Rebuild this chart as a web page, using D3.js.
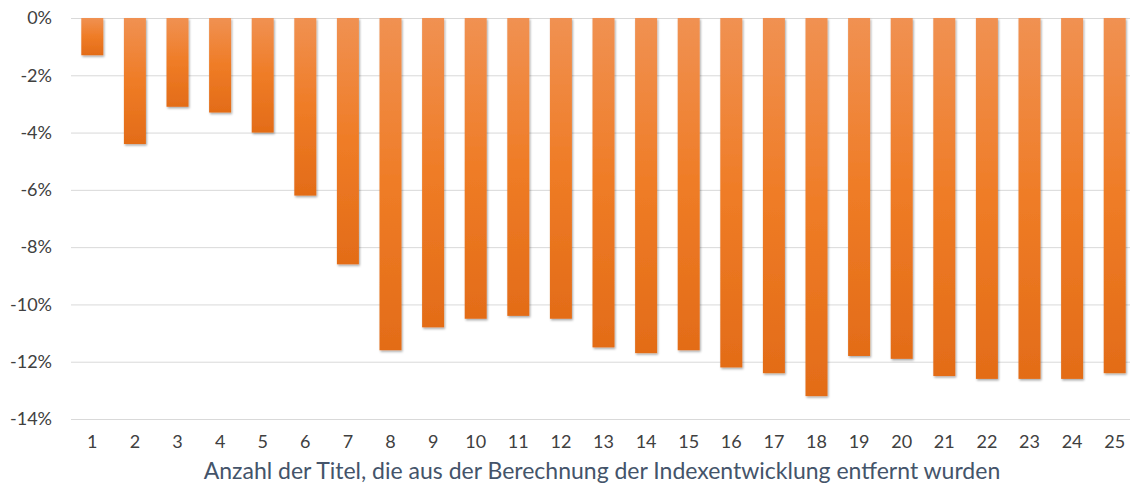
<!DOCTYPE html>
<html>
<head>
<meta charset="utf-8">
<script src="https://cdn.jsdelivr.net/npm/d3@7"></script>
<style>
  html, body { margin: 0; padding: 0; background: #fff; }
  svg { display: block; }
</style>
</head>
<body>
<svg id="chart" width="1130" height="490"></svg>
<script>
// Number of removed titles (x) and resulting change of the index (in %)
const categories = ["1","2","3","4","5","6","7","8","9","10","11","12","13","14","15","16","17","18","19","20","21","22","23","24","25"];
const values = [-1.3, -4.4, -3.1, -3.3, -4.0, -6.2, -8.6, -11.6, -10.8, -10.5, -10.4, -10.5, -11.5, -11.7, -11.6, -12.2, -12.4, -13.2, -11.8, -11.9, -12.5, -12.6, -12.6, -12.6, -12.4];
const yTicks = [0, -2, -4, -6, -8, -10, -12, -14];
const xTitle = "Anzahl der Titel, die aus der Berechnung der Indexentwicklung entfernt wurden";

const svg = d3.select("#chart");
const margin = { left: 71, right: -6, top: 18, bottom: 71 };
const W = 1130, H = 490;
const font = "Lato, 'Open Sans', sans-serif";

const x = d3.scaleBand()
  .domain(categories)
  .range([margin.left, W - margin.right])
  .paddingInner(0.484)
  .paddingOuter(0.242);

const y = d3.scaleLinear()
  .domain([-14, 0])
  .range([H - margin.bottom, margin.top]);

const defs = svg.append("defs");
const grad = defs.append("linearGradient")
  .attr("id", "barFill").attr("x1", 0).attr("y1", 0).attr("x2", 0).attr("y2", 1);
grad.append("stop").attr("offset", "0%").attr("stop-color", "#F09152");
grad.append("stop").attr("offset", "50%").attr("stop-color", "#EF7C26");
grad.append("stop").attr("offset", "100%").attr("stop-color", "#E36C18");

const shadow = defs.append("filter").attr("id", "barShadow")
  .attr("x", "-20%").attr("y", "-5%").attr("width", "150%").attr("height", "115%");
shadow.append("feDropShadow")
  .attr("dx", 1).attr("dy", 1.5).attr("stdDeviation", 1.2)
  .attr("flood-color", "#000").attr("flood-opacity", 0.35);

// Horizontal gridlines with percentage labels
const yAxis = d3.axisLeft(y)
  .tickValues(yTicks)
  .tickSize(-(W - margin.left))
  .tickPadding(19)
  .tickFormat(d => d + "%");

const gy = svg.append("g")
  .attr("transform", `translate(${margin.left},0)`)
  .call(yAxis);
gy.select(".domain").remove();
gy.selectAll(".tick line").attr("stroke", "#D9D9D9").attr("stroke-width", 1);
gy.selectAll(".tick text")
  .attr("fill", "#404040")
  .style("font-family", font)
  .style("font-size", "18px");

// Bars hanging from 0%
svg.append("g").selectAll("rect")
  .data(values)
  .join("rect")
  .attr("x", (d, i) => x(categories[i]))
  .attr("width", x.bandwidth())
  .attr("y", y(0))
  .attr("height", d => y(d) - y(0))
  .attr("fill", "url(#barFill)")
  .attr("filter", "url(#barShadow)");

// Category axis labels
const xAxis = d3.axisBottom(x).tickSize(0).tickPadding(16);
const gx = svg.append("g")
  .attr("transform", `translate(0,${y(-14)})`)
  .call(xAxis);
gx.select(".domain").remove();
gx.selectAll(".tick text")
  .attr("fill", "#404040")
  .style("font-family", font)
  .style("font-size", "18px");

// Axis title
svg.append("text")
  .attr("x", 602)
  .attr("y", 479)
  .attr("text-anchor", "middle")
  .attr("fill", "#44546A")
  .style("font-family", font)
  .style("font-size", "23px")
  .text(xTitle);
</script>
</body>
</html>
